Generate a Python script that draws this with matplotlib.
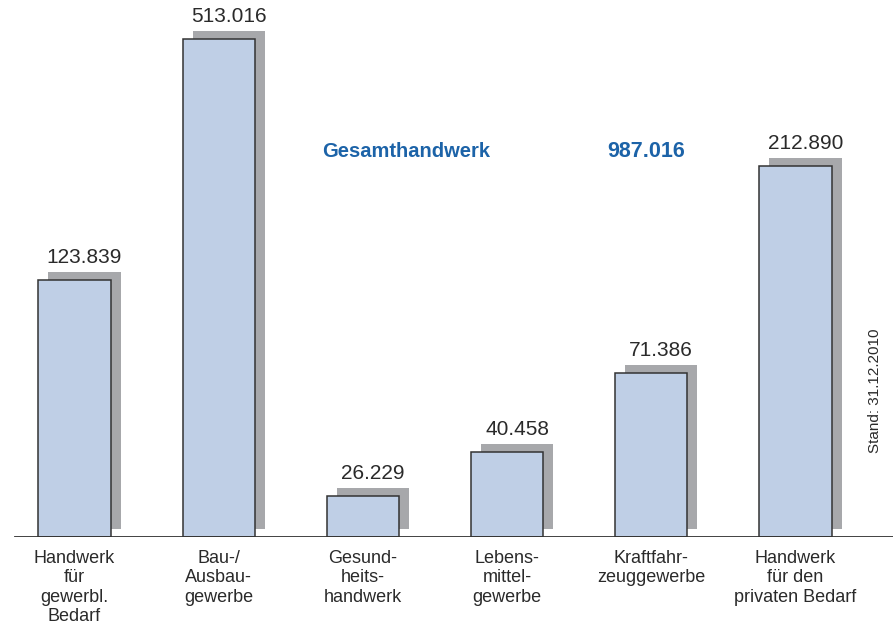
import matplotlib.pyplot as plt

categories = ['Handwerk\nfür\ngewerbl.\nBedarf', 'Bau-/\nAusbau-\ngewerbe', 'Gesund-\nheits-\nhandwerk',
              'Lebens-\nmittel-\ngewerbe', 'Kraftfahr-\nzeuggewerbe', 'Handwerk\nfür den\nprivaten Bedarf']
values = [123839, 513016, 26229, 40458, 71386, 212890]
# bar heights as drawn in the original (not to scale with the values)
bar_heights = [265, 513, 42, 88, 169, 382]
total = 987016

def fmt(v):
    return f'{v:,}'.replace(',', '.')

plt.rcParams['font.family'] = ['Liberation Sans', 'DejaVu Sans']

W, H = 893, 624
fig = plt.figure(figsize=(W / 100, H / 100), dpi=100)
ax = fig.add_axes([0, 87 / H, 1, 537 / H])

step = 144.2
x0 = -74.5 / step
ax.set_xlim(x0, x0 + W / step)
ax.set_ylim(0, 537 * 513 / 498)

dx = 10 / step
dy = 8 * 513 / 498
xs = list(range(len(values)))

ax.bar([x + dx for x in xs], bar_heights, width=0.5, bottom=dy, color='#a7a8ab', linewidth=0, zorder=1)
ax.bar(xs, bar_heights, width=0.5, color='#bfcfe6', edgecolor='#333333', linewidth=1.1, zorder=2)
ax.axhline(0, xmin=15 / W, xmax=1, color='#333333', linewidth=1.3, zorder=3)

for x, h, v in zip(xs, bar_heights, values):
    ax.text(x + dx, h + dy + 5, fmt(v), ha='center', va='bottom', fontsize=15, color='#2a2a2a')

for x, c in zip(xs, categories):
    ax.text(x, -13, c, ha='center', va='top', fontsize=13, color='#2a2a2a', linespacing=1.2)

ax.text(322 / W, 1 - 152 / 537, 'Gesamthandwerk', transform=ax.transAxes, ha='left', va='center',
        fontsize=14.5, fontweight='bold', color='#1c63a8')
ax.text(685 / W, 1 - 152 / 537, fmt(total), transform=ax.transAxes, ha='right', va='center',
        fontsize=15.5, fontweight='bold', color='#1c63a8')
fig.text(875 / W, 1 - 391 / H, 'Stand: 31.12.2010', rotation=90, ha='center', va='center',
         fontsize=11, color='#2a2a2a')

ax.axis('off')
fig.savefig('out.png', dpi=100)
